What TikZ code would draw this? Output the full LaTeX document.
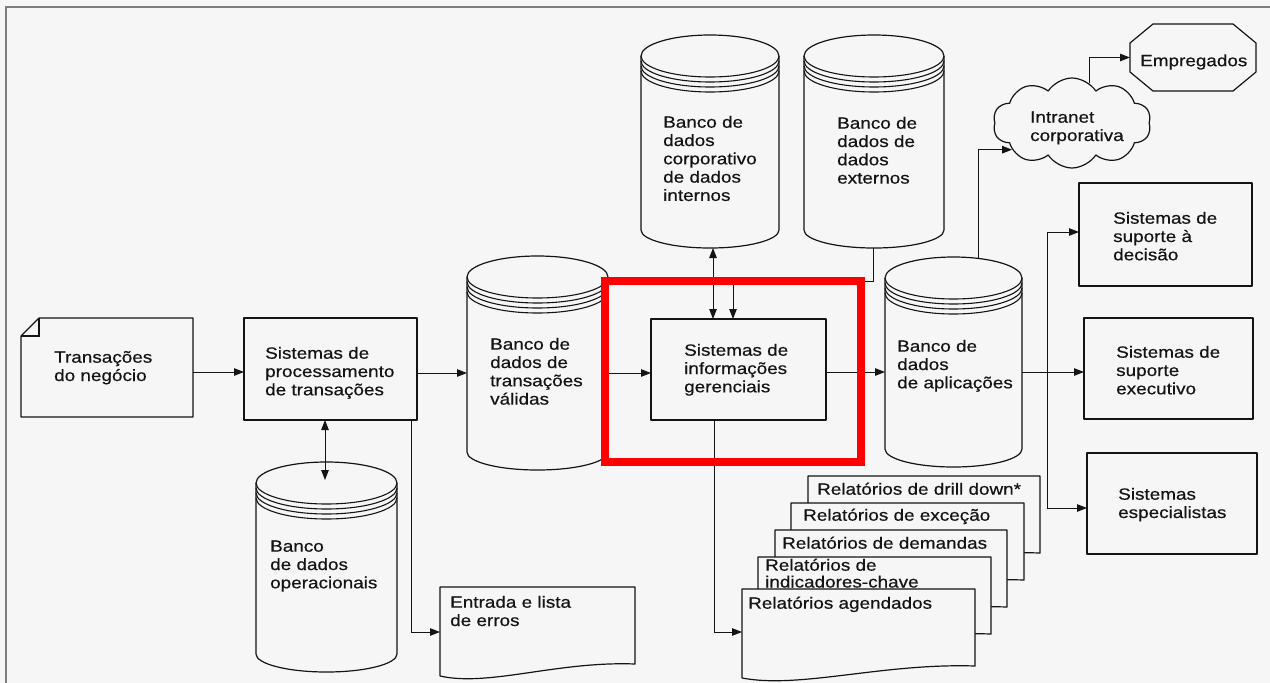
\documentclass[tikz,border=0pt]{standalone}
\usepackage{fontspec}
\setmainfont{Liberation Sans}[FakeStretch=1.16,FakeBold=0.5]
\usetikzlibrary{arrows.meta,calc,shapes.symbols}
\definecolor{bg}{RGB}{246,246,246}
\definecolor{ink}{RGB}{20,20,20}
\definecolor{redbox}{RGB}{255,0,0}
\definecolor{bordergray}{RGB}{125,125,125}
\newcommand\diagfont{\fontsize{16.3}{18.3}\selectfont}
\newcommand\mystrut{\rule{0pt}{14pt}}
\tikzset{
  frame/.style={inner sep=0pt, outer sep=0pt},
  shp/.style={draw=ink, line width=1.2pt, fill=bg, line join=round},
  ln/.style={draw=ink, line width=1.1pt},
  boxnode/.style={shp, inner sep=0pt, outer sep=0pt},
  arr/.style={draw=ink, line width=1pt, -{Triangle[length=10pt,width=7.5pt]}},
  arrb/.style={draw=ink, line width=1pt, {Triangle[length=10pt,width=7.5pt]}-{Triangle[length=10pt,width=7.5pt]}},
  txt/.style={anchor=north west, inner sep=0pt, align=left, text=ink, font=\diagfont},
}
% cylinder: name, cx, top y, bottom y, x radius
\newcommand\dbcyl[5]{%
  \node[frame, minimum width={2*#5*1pt}, minimum height={(#4-#3)*1pt}] (#1) at ({#2},{(#3+#4)/2}) {};
  \draw[shp] ($(#1.north west)+(0,21)$) -- ($(#1.south west)+(0,-18)$)
     arc[start angle=180,end angle=360,x radius=#5pt,y radius=18pt]
     -- ($(#1.north east)+(0,21)$)
     arc[start angle=0,end angle=180,x radius=#5pt,y radius=21pt] -- cycle;
  \draw[ln] ($(#1.north west)+(0,21)$) arc[start angle=180,end angle=360,x radius=#5pt,y radius=21pt];
  \foreach \k in {5,10,15}{%
    \draw[ln] ($(#1.north west)+(0,21+\k)$) arc[start angle=180,end angle=360,x radius=#5pt,y radius=21pt];}
}
% document sheet with wavy bottom: name, x1, top, width
\newcommand\rdoc[4]{%
  \node[frame, minimum width={#4*1pt}, minimum height=89pt, anchor=north west] (#1) at (#2,#3) {};
  \draw[shp] (#1.north west) -- (#1.north east) -- ($(#1.north east)+(0,77)$)
     .. controls ($(#1.north west)+({0.6*#4},74)$) and ($(#1.north west)+({0.25*#4},100)$) .. (#1.south west) -- cycle;
}
\begin{document}
\begin{tikzpicture}[x=1pt,y=-1pt]
\useasboundingbox (0,0) rectangle (1270,683);
\fill[bg] (0,0) rectangle (1270,683);
\draw[bordergray, line width=1.5pt] (1270,7) -- (6,7) -- (6,683);

% ---- Transacoes do negocio (document with folded corner)
\node[frame, minimum width=172pt, minimum height=99pt] (doc) at (107,367.5) {};
\draw[shp] ($(doc.north west)+(0,18)$) -- ($(doc.north west)+(18,0)$) -- (doc.north east) -- (doc.south east) -- (doc.south west) -- cycle;
\draw[ln] ($(doc.north west)+(0,18)$) -- ($(doc.north west)+(18,18)$) -- ($(doc.north west)+(18,0)$);
\node[txt] (tdoc) at (54,348.5) {\mystrut Transações\\do negócio};

% ---- rectangular boxes
\node[boxnode, minimum width=173pt, minimum height=102pt] (spt) at (330.5,369) {};
\node[txt] (tspt) at (265,344.5) {\mystrut Sistemas de\\processamento\\de transações};
\node[boxnode, minimum width=175pt, minimum height=101pt] (sig) at (738.5,369.5) {};
\node[txt] (tsig) at (684,341.5) {\mystrut Sistemas de\\informações\\gerenciais};
\node[boxnode, minimum width=173pt, minimum height=103pt] (dec) at (1165.5,234.5) {};
\node[txt] (tdec) at (1113,209.5) {\mystrut Sistemas de\\suporte à\\decisão};
\node[boxnode, minimum width=169pt, minimum height=101pt] (exe) at (1168.5,368.5) {};
\node[txt] (texe) at (1116,343.5) {\mystrut Sistemas de\\suporte\\executivo};
\node[boxnode, minimum width=170pt, minimum height=101pt] (esp) at (1172,503.5) {};
\node[txt] (tesp) at (1118,485.5) {\mystrut Sistemas\\especialistas};

% ---- cylinders
\dbcyl{corp}{710}{35}{248}{69}
\node[txt] (tcorp) at (663,113.5) {\mystrut Banco de\\dados\\corporativo\\de dados\\internos};
\dbcyl{ext}{874}{35}{248}{70}
\node[txt] (text) at (837,114.5) {\mystrut Banco de\\dados de\\dados\\externos};
\dbcyl{val}{537.5}{256}{470}{70.5}
\node[txt] (tval) at (490,335.5) {\mystrut Banco de\\dados de\\transações\\válidas};
\dbcyl{app}{953.5}{257}{467}{68.5}
\node[txt] (tapp) at (897,337.5) {\mystrut Banco de\\dados\\de aplicações};
\dbcyl{op}{326.5}{462}{672}{70.5}
\node[txt] (top) at (270,537.5) {\mystrut Banco\\de dados\\operacionais};

% ---- cloud and octagon
\node[cloud, cloud puffs=10, cloud puff arc=115, cloud ignores aspect, minimum width=158pt, minimum height=90pt, inner sep=0pt, shp] (cloud) at (1072,123) {};
\node[txt] (tcloud) at (1030,108.5) {\mystrut Intranet\\corporativa};
\node[frame, minimum width=126pt, minimum height=67pt] (emp) at (1193,57.5) {};
\draw[shp] ($(emp.north west)+(23,0)$) -- ($(emp.north east)+(-23,0)$) -- ($(emp.north east)+(0,19)$) -- ($(emp.south east)+(0,-19)$) -- ($(emp.south east)+(-23,0)$) -- ($(emp.south west)+(23,0)$) -- ($(emp.south west)+(0,-19)$) -- ($(emp.north west)+(0,19)$) -- cycle;
\node[txt] (temp) at (1140,52) {\mystrut Empregados};

% ---- entrada e lista de erros
\rdoc{ent}{440}{587}{195}
\node[txt] (tent) at (450,593.5) {\mystrut Entrada e lista\\de erros};

% ---- report stack (back to front)
\rdoc{r1}{808}{476}{232}
\node[txt] (tr1) at (817,480.5) {\mystrut Relatórios de drill down*};
\rdoc{r2}{791}{503}{233}
\node[txt] (tr2) at (803,506.5) {\mystrut Relatórios de exceção};
\rdoc{r3}{775}{530}{232}
\node[txt] (tr3) at (782,534.5) {\mystrut Relatórios de demandas};
\rdoc{r4}{758}{557}{233}
\node[txt] (tr4) at (765,556.5) {\mystrut Relatórios de\\[-1.5pt]indicadores-chave};
\rdoc{r5}{742}{589}{233}
\node[txt] (tr5) at (748,594.5) {\mystrut Relatórios agendados};

% ---- connectors
\draw[arr] (doc.east |- 0,372) -- (spt.west |- 0,372);
\draw[arr] (spt.east |- 0,373) -- (val.west |- 0,373);
\draw[arr] (val.east |- 0,373) -- (sig.west |- 0,373);
\draw[arr] (sig.east |- 0,372) -- (app.west |- 0,372);
\draw[arrb] (sig.north -| 713,0) -- (corp.south -| 713,0);
\draw[arr] (ext.south -| 873,0) -- (873,281) -| (sig.north -| 733,0);
\draw[arr] ($(app.north -| 978,0)+(0,1.5)$) |- (cloud.204);
\draw[arr] (cloud.66) |- (emp.west);
\draw[arr] (app.east |- 0,372) -- (exe.west |- 0,372);
\coordinate (jn) at (1047,372);
\draw[arr] (jn) |- (dec.west |- 0,232);
\draw[arr] (jn) |- (esp.west |- 0,508);
\draw[arrb] (spt.south -| 325,0) -- ($(op.north -| 325,0)+(0,18)$);
\draw[arr] (spt.south -| 411,0) |- (ent.west |- 0,632);
\draw[arr] (sig.south -| 714,0) |- (r5.west |- 0,632);

% ---- red highlight
\draw[draw=redbox, line width=8pt] (605,281) rectangle (861,462);
\end{tikzpicture}
\end{document}
